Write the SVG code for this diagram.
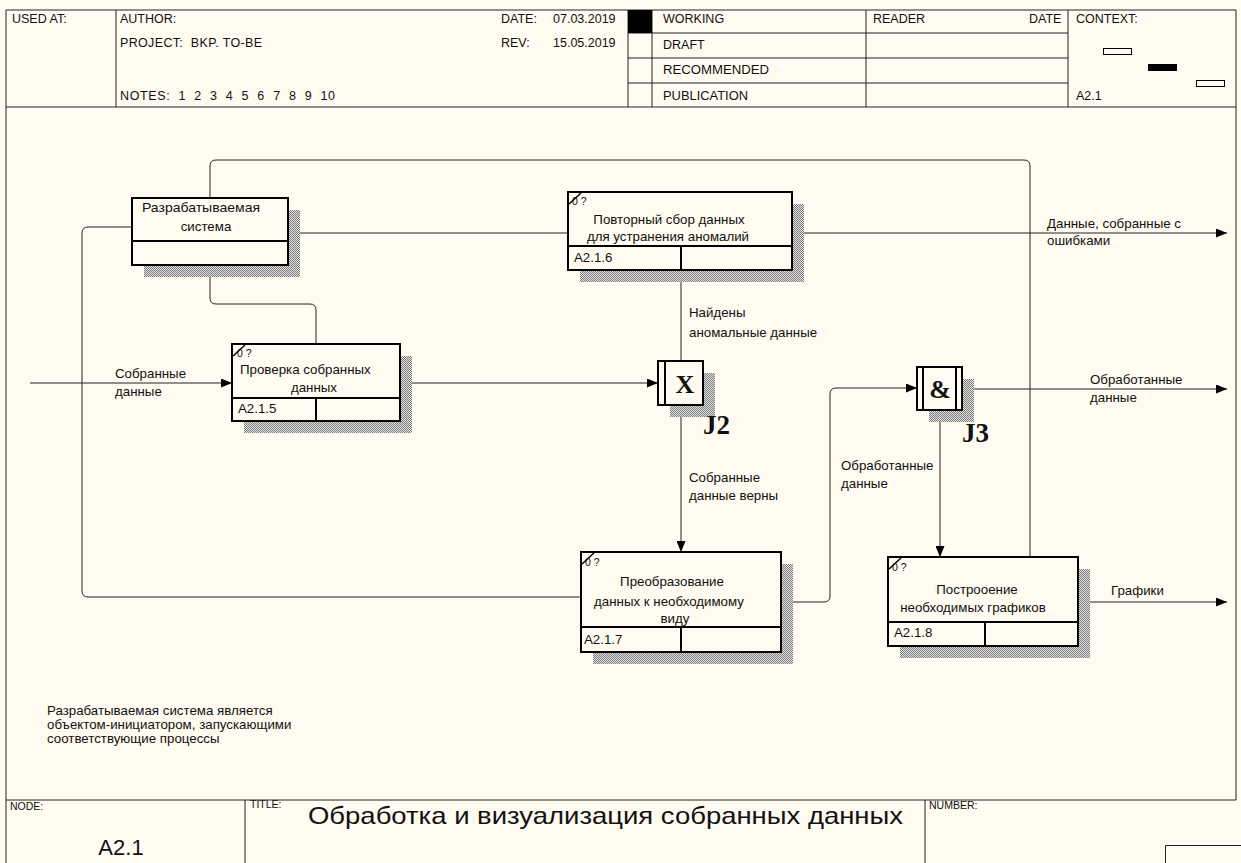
<svg xmlns="http://www.w3.org/2000/svg" width="1241" height="863" viewBox="0 0 1241 863">
  <style>
    text { font-family: "Liberation Sans", Arial, sans-serif; fill: #111; }
    .hd { font-size: 12.5px; }
    .lbl { font-size: 13.3px; }
    .num { font-size: 10.5px; }
    .mid { text-anchor: middle; }
    .frame { stroke: #222; stroke-width: 1; fill: none; }
    .box { fill: #fffbf0; stroke: #000; stroke-width: 2; }
    .div { stroke: #000; stroke-width: 2; }
    .slash { stroke: #000; stroke-width: 1.5; }
    .shadow { fill: url(#hatch); }
    .conn { fill: none; stroke: #222; stroke-width: 1; }
    .jl { font-family: "Liberation Serif", "Times New Roman", serif; font-weight: bold; }
  </style>
  <defs>
    <pattern id="hatch" width="2" height="2" patternUnits="userSpaceOnUse">
      <rect width="2" height="2" fill="#e2e2e2"/>
      <rect width="1" height="1" fill="#7c7c7c"/>
      <rect x="1" y="1" width="1" height="1" fill="#7c7c7c"/>
    </pattern>
    <marker id="arr" viewBox="0 0 11 9" refX="11" refY="4.5" markerWidth="11" markerHeight="9" orient="auto" markerUnits="userSpaceOnUse">
      <path d="M0,0 L11,4.5 L0,9 z" fill="#000"/>
    </marker>
  </defs>

  <!-- sheet background -->
  <rect x="0" y="0" width="1241" height="863" fill="#fffbf0"/>

  <!-- header frame -->
  <g id="header">
    <path class="frame" d="M6,10 H1236 M6,10 V863 M1236,10 V800 M6,107 H1236"/>
    <path class="frame" d="M116,10 V107 M628,10 V107 M652,10 V107 M866,10 V107 M1068,10 V107"/>
    <path class="frame" d="M628,33 H1068 M628,58 H1068 M628,83 H1068"/>
    <rect x="628" y="10" width="24" height="23" fill="#000"/>
    <text class="hd" x="12" y="23">USED AT:</text>
    <text class="hd" x="120" y="23">AUTHOR:</text>
    <text class="hd" x="120" y="47" xml:space="preserve" textLength="142" lengthAdjust="spacing">PROJECT:  BKP. TO-BE</text>
    <text class="hd" x="120" y="100" xml:space="preserve" textLength="215" lengthAdjust="spacing">NOTES:  1  2  3  4  5  6  7  8  9  10</text>
    <text class="hd" x="501" y="23">DATE:</text>
    <text class="hd" x="553" y="23">07.03.2019</text>
    <text class="hd" x="501" y="47">REV:</text>
    <text class="hd" x="553" y="47">15.05.2019</text>
    <text class="hd" x="663" y="23">WORKING</text>
    <text class="hd" x="663" y="49">DRAFT</text>
    <text class="hd" x="663" y="74" textLength="106" lengthAdjust="spacingAndGlyphs">RECOMMENDED</text>
    <text class="hd" x="663" y="100" textLength="85" lengthAdjust="spacingAndGlyphs">PUBLICATION</text>
    <text class="hd" x="873" y="23">READER</text>
    <text class="hd" x="1029" y="23">DATE</text>
    <text class="hd" x="1076" y="23">CONTEXT:</text>
    <text class="hd" x="1076" y="100">A2.1</text>
    <rect x="1103.5" y="48.5" width="28" height="6" fill="none" stroke="#000"/>
    <rect x="1148" y="64" width="29" height="7" fill="#000"/>
    <rect x="1196.5" y="80.5" width="28" height="6" fill="none" stroke="#000"/>
  </g>

  <!-- connectors -->
  <g id="connectors">
    <path class="conn" d="M210,198 V166 Q210,160 216,160 H1024 Q1030,160 1030,166 V557"/>
    <path class="conn" d="M132,227 H88 Q82,227 82,233 V591 Q82,597 88,597 H581"/>
    <path class="conn" d="M288,233 H568"/>
    <path class="conn" d="M210,265 V298 Q210,304 216,304 H310 Q316,304 316,310 V344"/>
    <path class="conn" d="M30,383 H232" marker-end="url(#arr)"/>
    <path class="conn" d="M400,383 H658" marker-end="url(#arr)"/>
    <path class="conn" d="M681,361 V271" marker-end="url(#arr)"/>
    <path class="conn" d="M681,405 V552" marker-end="url(#arr)"/>
    <path class="conn" d="M781,602 H824 Q830,602 830,596 V394 Q830,388 836,388 H917" marker-end="url(#arr)"/>
    <path class="conn" d="M962,389 H1227" marker-end="url(#arr)"/>
    <path class="conn" d="M940,410 V557" marker-end="url(#arr)"/>
    <path class="conn" d="M792,233 H1227" marker-end="url(#arr)"/>
    <path class="conn" d="M1078,602 H1227" marker-end="url(#arr)"/>

    <text class="lbl" x="115" y="378">Собранные</text>
    <text class="lbl" x="115" y="396">данные</text>
    <text class="lbl" x="689" y="317">Найдены</text>
    <text class="lbl" x="689" y="337">аномальные данные</text>
    <text class="lbl" x="689" y="482">Собранные</text>
    <text class="lbl" x="689" y="500">данные верны</text>
    <text class="lbl" x="841" y="470">Обработанные</text>
    <text class="lbl" x="841" y="488">данные</text>
    <text class="lbl" x="1090" y="384">Обработанные</text>
    <text class="lbl" x="1090" y="402">данные</text>
    <text class="lbl" x="1047" y="228">Данные, собранные с</text>
    <text class="lbl" x="1047" y="245">ошибками</text>
    <text class="lbl" x="1111" y="595">Графики</text>
  </g>

  <!-- object: Разрабатываемая система -->
  <g id="node-system">
    <rect class="shadow" x="144" y="210" width="156" height="67"/>
    <rect class="box" x="132" y="198" width="156" height="67"/>
    <line class="div" x1="132" y1="241" x2="288" y2="241"/>
    <text class="lbl" x="142" y="212" textLength="118" lengthAdjust="spacingAndGlyphs">Разрабатываемая</text>
    <text class="lbl mid" x="206" y="231">система</text>
  </g>

  <!-- A2.1.6 -->
  <g id="node-A2-1-6">
    <rect class="shadow" x="580" y="204" width="224" height="78"/>
    <rect class="box" x="568" y="192" width="224" height="78"/>
    <line class="div" x1="568" y1="246" x2="792" y2="246"/>
    <line class="div" x1="681" y1="246" x2="681" y2="270"/>
    <line class="slash" x1="569" y1="204" x2="581" y2="193"/>
    <text class="num" x="572" y="205">0 ?</text>
    <text class="lbl mid" x="669" y="224">Повторный сбор данных</text>
    <text class="lbl mid" x="668" y="241">для устранения аномалий</text>
    <text class="lbl" x="574" y="262">A2.1.6</text>
  </g>

  <!-- A2.1.5 -->
  <g id="node-A2-1-5">
    <rect class="shadow" x="244" y="356" width="168" height="77"/>
    <rect class="box" x="232" y="344" width="168" height="77"/>
    <line class="div" x1="232" y1="398" x2="400" y2="398"/>
    <line class="div" x1="316" y1="398" x2="316" y2="421"/>
    <line class="slash" x1="233" y1="356" x2="245" y2="345"/>
    <text class="num" x="237" y="357">0 ?</text>
    <text class="lbl" x="240" y="374">Проверка собранных</text>
    <text class="lbl mid" x="314" y="392">данных</text>
    <text class="lbl" x="238" y="413">A2.1.5</text>
  </g>

  <!-- junction J2 (XOR) -->
  <g id="junction-J2">
    <rect class="shadow" x="670" y="373" width="45" height="44"/>
    <rect class="box" x="658" y="361" width="45" height="44"/>
    <line class="div" x1="665" y1="361" x2="665" y2="405"/>
    <text class="jl mid" x="685" y="393" font-size="26">X</text>
    <text class="jl" x="703" y="434" font-size="27">J2</text>
  </g>

  <!-- junction J3 (AND) -->
  <g id="junction-J3">
    <rect class="shadow" x="929" y="379" width="45" height="43"/>
    <rect class="box" x="917" y="367" width="45" height="43"/>
    <line class="div" x1="923" y1="367" x2="923" y2="410"/>
    <line class="div" x1="956" y1="367" x2="956" y2="410"/>
    <text class="jl mid" x="940" y="398" font-size="26">&amp;</text>
    <text class="jl" x="962" y="442" font-size="27">J3</text>
  </g>

  <!-- A2.1.7 -->
  <g id="node-A2-1-7">
    <rect class="shadow" x="593" y="564" width="200" height="100"/>
    <rect class="box" x="581" y="552" width="200" height="100"/>
    <line class="div" x1="581" y1="627" x2="781" y2="627"/>
    <line class="div" x1="681" y1="627" x2="681" y2="652"/>
    <line class="slash" x1="582" y1="564" x2="594" y2="553"/>
    <text class="num" x="585" y="566">0 ?</text>
    <text class="lbl mid" x="672" y="586">Преобразование</text>
    <text class="lbl mid" x="669" y="606">данных к необходимому</text>
    <text class="lbl mid" x="675" y="623">виду</text>
    <text class="lbl" x="584" y="644">A2.1.7</text>
  </g>

  <!-- A2.1.8 -->
  <g id="node-A2-1-8">
    <rect class="shadow" x="900" y="569" width="190" height="89"/>
    <rect class="box" x="888" y="557" width="190" height="89"/>
    <line class="div" x1="888" y1="622" x2="1078" y2="622"/>
    <line class="div" x1="985" y1="622" x2="985" y2="646"/>
    <line class="slash" x1="889" y1="569" x2="901" y2="558"/>
    <text class="num" x="892" y="571">0 ?</text>
    <text class="lbl mid" x="977" y="594">Построоение</text>
    <text class="lbl mid" x="973" y="612">необходимых графиков</text>
    <text class="lbl" x="894" y="637">A2.1.8</text>
  </g>

  <!-- note -->
  <g id="note">
    <text class="lbl" x="47" y="715">Разрабатываемая система является</text>
    <text class="lbl" x="47" y="729">объектом-инициатором, запускающими</text>
    <text class="lbl" x="47" y="743">соответствующие процессы</text>
  </g>

  <!-- footer -->
  <g id="footer">
    <path class="frame" d="M6,800 H1236 M245,800 V863 M925,800 V863"/>
    <path class="frame" d="M1165.5,863 V845.5 H1241"/>
    <text class="num" x="10" y="810">NODE:</text>
    <text class="mid" x="121" y="855" font-size="22">A2.1</text>
    <text class="num" x="250" y="808">TITLE:</text>
    <text x="308" y="824" font-size="24" textLength="595" lengthAdjust="spacingAndGlyphs">Обработка и визуализация собранных данных</text>
    <text class="num" x="929" y="809">NUMBER:</text>
  </g>
</svg>
